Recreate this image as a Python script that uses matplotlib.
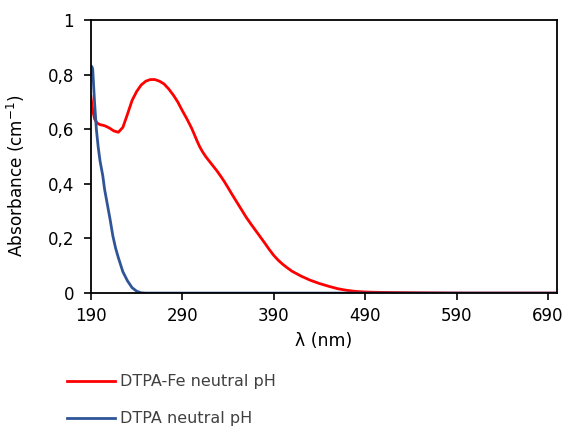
import matplotlib
matplotlib.use("Agg")
import matplotlib.pyplot as plt

plt.rcParams['font.family'] = ['DejaVu Sans']

# DTPA-Fe neutral pH
wl_fe = [190, 192, 194, 197, 200, 205, 210, 215, 220, 225, 230, 235, 240, 245,
         250, 255, 260, 265, 270, 275, 280, 285, 290, 295, 300, 303, 306, 309,
         312, 316, 320, 324, 328, 332, 336, 340, 345, 350, 355, 360, 365, 370,
         375, 380, 385, 390, 395, 400, 405, 410, 420, 430, 440, 450, 460, 470,
         480, 490, 500, 520, 550, 600, 700]
abs_fe = [0.72, 0.67, 0.638, 0.622, 0.617, 0.613, 0.605, 0.594, 0.589, 0.607,
          0.655, 0.705, 0.738, 0.762, 0.776, 0.782, 0.782, 0.776, 0.766, 0.748,
          0.726, 0.70, 0.668, 0.638, 0.605, 0.582, 0.558, 0.536, 0.518, 0.498,
          0.481, 0.464, 0.447, 0.428, 0.408, 0.386, 0.358, 0.331, 0.304, 0.277,
          0.253, 0.23, 0.207, 0.184, 0.16, 0.138, 0.12, 0.105, 0.092, 0.08,
          0.062, 0.047, 0.035, 0.025, 0.016, 0.01, 0.006, 0.004, 0.003, 0.002,
          0.001, 0.0, 0.0]

# DTPA neutral pH
wl_dtpa = [190, 191, 192, 194, 196, 198, 200, 203, 205, 208, 211, 214, 217,
           220, 225, 230, 235, 240, 245, 250, 700]
abs_dtpa = [0.80, 0.83, 0.82, 0.70, 0.60, 0.535, 0.484, 0.43, 0.38, 0.325,
            0.27, 0.21, 0.165, 0.13, 0.078, 0.045, 0.02, 0.007, 0.001, 0.0, 0.0]

x_ticks = [190, 290, 390, 490, 590, 690]
y_ticks = [0, 0.2, 0.4, 0.6, 0.8, 1]
y_labels = ['0', '0,2', '0,4', '0,6', '0,8', '1']

fig = plt.figure(figsize=(5.68, 4.26), dpi=100)
ax = fig.add_axes([0.160, 0.312, 0.821, 0.641])

l1, = ax.plot(wl_fe, abs_fe, color='#FF0000', lw=2.0, solid_joinstyle='round')
l2, = ax.plot(wl_dtpa, abs_dtpa, color='#2F5597', lw=2.0, solid_joinstyle='round')

ax.set_xlim(190, 700)
ax.set_ylim(0, 1)
ax.set_xticks(x_ticks)
ax.set_yticks(y_ticks)
ax.set_yticklabels(y_labels)
ax.tick_params(axis='both', labelsize=12, direction='out', length=5, width=1.2,
               top=False, right=False, color='black')
ax.tick_params(axis='y', pad=7)
ax.tick_params(axis='x', pad=5)
for s in ax.spines.values():
    s.set_linewidth(1.3)
    s.set_color('black')

ax.set_xlabel('λ (nm)', fontsize=12.5, labelpad=5)
ax.set_ylabel('Absorbance (cm$^{-1}$)', fontsize=12.2)
ax.yaxis.set_label_coords(-0.138, 0.43)

fig.legend([l1, l2], ['DTPA-Fe neutral pH', 'DTPA neutral pH'],
           loc='upper left', bbox_to_anchor=(0.107, 0.136), frameon=False,
           fontsize=11.5, handlelength=3.0, labelspacing=1.38, handletextpad=0.3,
           borderaxespad=0)
for t in fig.legends[0].get_texts():
    t.set_color('#404040')

fig.savefig('out.png', dpi=100)
